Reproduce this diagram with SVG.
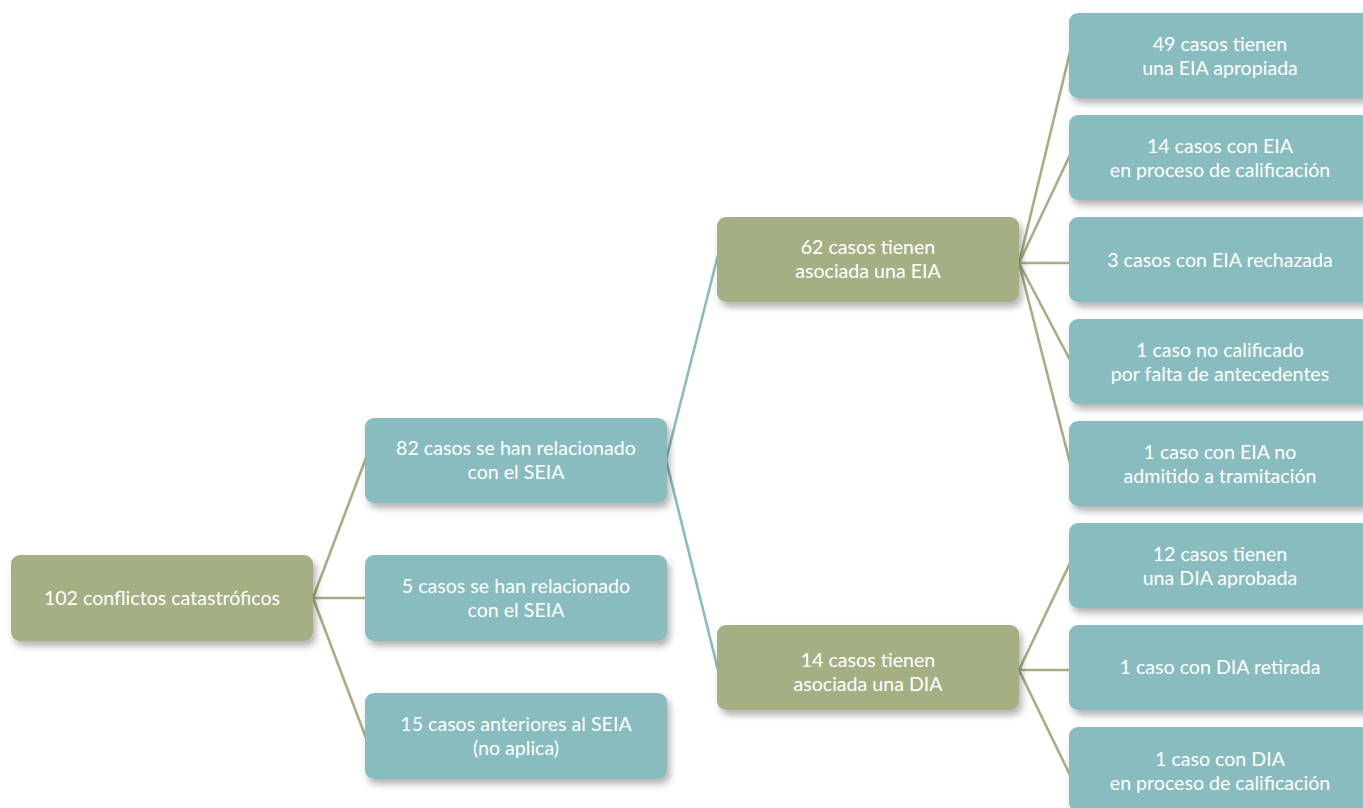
<svg xmlns="http://www.w3.org/2000/svg" width="1363" height="808" viewBox="0 0 1363 808">
<defs>
<filter id="sh" x="-10%" y="-20%" width="125%" height="150%">
<feDropShadow dx="3" dy="5" stdDeviation="3.5" flood-color="#000" flood-opacity="0.3"/>
</filter>
<style>
.o{fill:#a4b084;filter:url(#sh)}
.t{fill:#89bcbe;filter:url(#sh)}
.lo{stroke:#a4b084;stroke-width:2.6;fill:none}
.lt{stroke:#89bcbe;stroke-width:2.6;fill:none}
text{font-family:Lato,"Open Sans","DejaVu Sans",sans-serif;font-size:19.6px;fill:#fff;text-anchor:middle}
</style>
</defs>
<rect width="1363" height="808" fill="#fff"/>
<g id="connectors">
<line class="lo" x1="313" y1="598" x2="366" y2="458"/>
<line class="lo" x1="313" y1="598" x2="366" y2="598"/>
<line class="lo" x1="313" y1="598" x2="366" y2="738"/>
<line class="lt" x1="666" y1="460" x2="718" y2="255"/>
<line class="lt" x1="666" y1="460" x2="718" y2="670"/>
<line class="lo" x1="1019" y1="263" x2="1070" y2="52"/>
<line class="lo" x1="1019" y1="263" x2="1070" y2="155"/>
<line class="lo" x1="1019" y1="263" x2="1070" y2="263"/>
<line class="lo" x1="1019" y1="263" x2="1070" y2="360"/>
<line class="lo" x1="1019" y1="263" x2="1070" y2="463"/>
<line class="lo" x1="1019" y1="670" x2="1070" y2="563"/>
<line class="lo" x1="1019" y1="670" x2="1070" y2="670"/>
<line class="lo" x1="1019" y1="670" x2="1070" y2="775"/>
</g>
<g id="n-root"><rect class="o" x="11" y="555" width="302" height="86" rx="9"/><text x="162" y="605">102 conflictos catastróficos</text></g>
<g id="n-82"><rect class="t" x="365" y="418" width="302" height="85" rx="9"/><text x="516" y="455">82 casos se han relacionado</text><text x="516" y="479">con el SEIA</text></g>
<g id="n-5"><rect class="t" x="365" y="555" width="302" height="86" rx="9"/><text x="516" y="593">5 casos se han relacionado</text><text x="516" y="617">con el SEIA</text></g>
<g id="n-15"><rect class="t" x="365" y="693" width="302" height="86" rx="9"/><text x="516" y="731">15 casos anteriores al SEIA</text><text x="516" y="755">(no aplica)</text></g>
<g id="n-62"><rect class="o" x="717" y="217" width="302" height="85" rx="9"/><text x="868" y="254">62 casos tienen</text><text x="868" y="278">asociada una EIA</text></g>
<g id="n-14"><rect class="o" x="717" y="625" width="302" height="85" rx="9"/><text x="868" y="667">14 casos tienen</text><text x="868" y="691">asociada una DIA</text></g>
<g id="n-49"><rect class="t" x="1069" y="13" width="302" height="85" rx="9"/><text x="1220" y="51">49 casos tienen</text><text x="1220" y="75">una EIA apropiada</text></g>
<g id="n-14e"><rect class="t" x="1069" y="115" width="302" height="85" rx="9"/><text x="1220" y="153">14 casos con EIA</text><text x="1220" y="177">en proceso de calificación</text></g>
<g id="n-3"><rect class="t" x="1069" y="217" width="302" height="85" rx="9"/><text x="1220" y="267">3 casos con EIA rechazada</text></g>
<g id="n-1a"><rect class="t" x="1069" y="319" width="302" height="85" rx="9"/><text x="1220" y="357">1 caso no calificado</text><text x="1220" y="381">por falta de antecedentes</text></g>
<g id="n-1b"><rect class="t" x="1069" y="421" width="302" height="85" rx="9"/><text x="1220" y="459">1 caso con EIA no</text><text x="1220" y="483">admitido a tramitación</text></g>
<g id="n-12"><rect class="t" x="1069" y="523" width="302" height="85" rx="9"/><text x="1220" y="561">12 casos tienen</text><text x="1220" y="585">una DIA aprobada</text></g>
<g id="n-1c"><rect class="t" x="1069" y="625" width="302" height="85" rx="9"/><text x="1220" y="674">1 caso con DIA retirada</text></g>
<g id="n-1d"><rect class="t" x="1069" y="727" width="302" height="85" rx="9"/><text x="1220" y="766">1 caso con DIA</text><text x="1220" y="790">en proceso de calificación</text></g>
</svg>
